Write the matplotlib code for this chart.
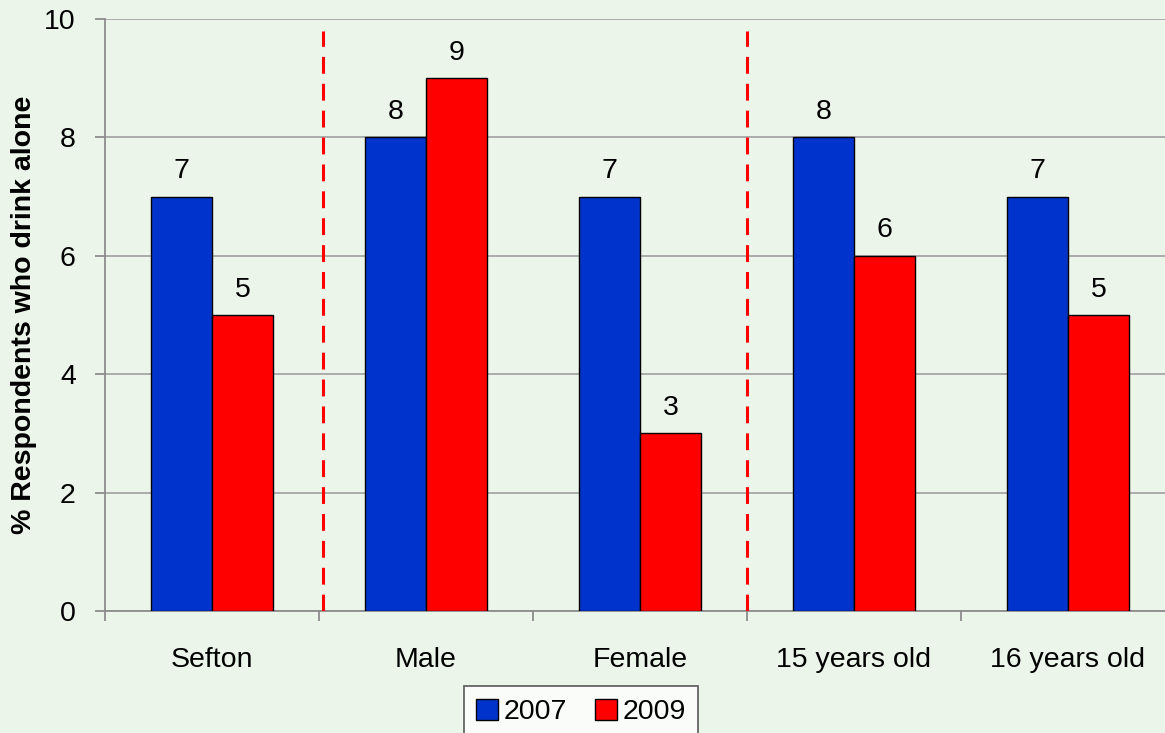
import matplotlib
matplotlib.use("Agg")
import matplotlib.pyplot as plt
import numpy as np

categories = ["Sefton", "Male", "Female", "15 years old", "16 years old"]
values_2007 = [7, 8, 7, 8, 7]
values_2009 = [5, 9, 3, 6, 5]
series_names = ["2007", "2009"]
divider_positions = [0.52, 2.5]

plt.rcParams['font.family'] = ['Liberation Sans', 'DejaVu Sans']
bg = '#EBF5EA'
fig = plt.figure(figsize=(11.65, 7.33), dpi=100, facecolor=bg)
W, H = 1165, 733
ax = fig.add_axes([105 / W, 1 - 611 / H, 1070 / W, (611 - 19) / H])
ax.set_facecolor(bg)

fs = 20.5
x = np.arange(len(categories))
w = 0.285
b1 = ax.bar(x - w / 2, values_2007, w, color='#0033CC', edgecolor='black', linewidth=1, label=series_names[0], zorder=3)
b2 = ax.bar(x + w / 2, values_2009, w, color='#FF0000', edgecolor='black', linewidth=1, label=series_names[1], zorder=3)
for bars, vals in ((b1, values_2007), (b2, values_2009)):
    for r, v in zip(bars, vals):
        ax.text(r.get_x() + r.get_width() / 2, v + 0.31, str(v), ha='center', va='baseline', fontsize=fs, zorder=4)

for d in divider_positions:
    ax.plot([d, d], [0, 9.8], color='#FF0000', linestyle=(0, (5.5, 3.3)), linewidth=2.2, zorder=4)

ax.set_xlim(-0.5, len(categories) - 0.5)
ax.set_ylim(0, 10)
ax.set_yticks(range(0, 11, 2))
ax.yaxis.grid(True, color='#A6A6A6', linewidth=1.3, zorder=0)
ax.set_axisbelow(True)
for s in ['top', 'right']:
    ax.spines[s].set_visible(False)
for s in ['left', 'bottom']:
    ax.spines[s].set_color('#8C8C8C')
    ax.spines[s].set_linewidth(1.3)
ax.set_xticks(x)
ax.set_xticklabels(categories, fontsize=fs)
ax.set_xticks(np.arange(-0.5, len(categories)), minor=True)
ax.tick_params(axis='x', which='major', length=0, pad=26)
ax.tick_params(axis='x', which='minor', length=7, color='#8C8C8C', width=1.3)
ax.tick_params(axis='y', labelsize=fs, length=7, color='#8C8C8C', width=1.3, pad=14)
ax.set_ylabel('% Respondents who drink alone', fontsize=20.5, fontweight='bold', labelpad=5)

leg = fig.legend(handles=[b1, b2], labels=series_names, loc='lower center',
                 bbox_to_anchor=(581 / W, -5 / H), ncol=2, fontsize=fs, frameon=True,
                 fancybox=False, edgecolor='#404040', facecolor='white', handlelength=0.75,
                 handleheight=0.75, handletextpad=0.2, columnspacing=1.0, borderpad=0.45,
                 borderaxespad=0)
leg.get_frame().set_linewidth(1.3)

fig.savefig('out.png', dpi=100, facecolor=bg)
